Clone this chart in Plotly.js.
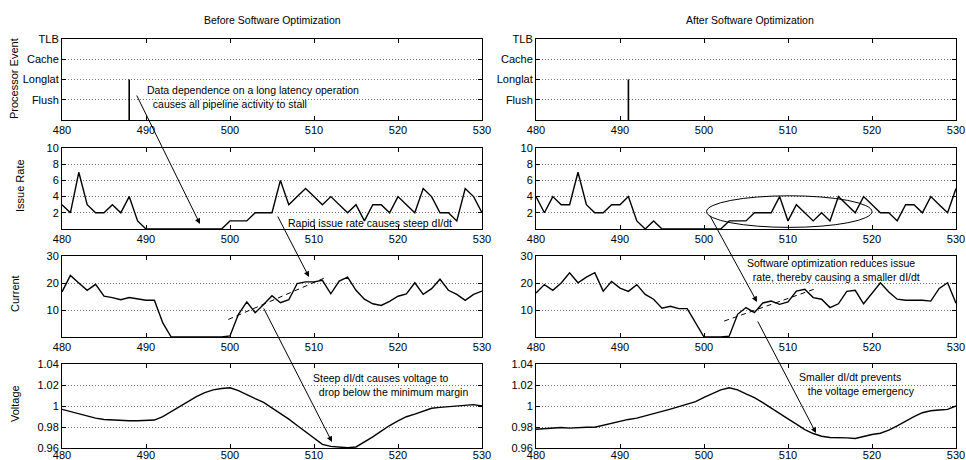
<!DOCTYPE html>
<html>
<head>
<meta charset="utf-8">
<script src="https://cdn.plot.ly/plotly-3.0.1.min.js"></script>
<style>html,body{margin:0;padding:0;background:#fff;}#chart{width:966px;height:460px;}</style>
</head>
<body>
<div id="chart"></div>
<script>
// ---------------- data ----------------
const cycles = [480,481,482,483,484,485,486,487,488,489,490,491,492,493,494,495,496,497,498,499,
                500,501,502,503,504,505,506,507,508,509,510,511,512,513,514,515,516,517,518,519,
                520,521,522,523,524,525,526,527,528,529,530];
const xTicks = [480,490,500,510,520,530];

const eventNames = ['Flush','Longlat','Cache','TLB'];
const eventCycleBefore = [488];
const eventTypeBefore = ['Longlat'];
const eventCycleAfter = [491];
const eventTypeAfter = ['Longlat'];

const issueBefore = [3,2,7,3,2,2,3,2,4,1, 0,0,0,0,0,0,0,0,0,0,
                     1,1,1,2,2,2,6,3,4,5, 4,3,4,3,2,3,1,3,3,2,
                     4,3,2,5,4,2,2,1,5,4, 2];
const issueAfter  = [4,2,4,3,3,7,3,2,2,3, 3,4,1,0,1,0,0,0,0,0,
                     0,0,0,1,1,1,2,2,2,4, 1,3,2,1,2,1,4,3,2,4,
                     3,2,2,1,3,3,2,4,3,2, 5];

const currentBefore = [16.7,22.8,20,17.3,19.5,15.1,14.6,13.8,14.6,14.2,
                       13.6,13.6,5.2,0,0,0,0,0,0,0,
                       0.4,8.4,13,9,12,15.3,12.7,13.8,19.8,20.4,
                       20.4,21,16,20.7,22.2,17.3,14,12.3,11.7,13.2,
                       15.1,16,20.1,15.8,17.9,21.4,17.3,15.8,13.6,15.8,
                       17];
const currentAfter = [16.3,19.4,17.3,20,23.8,20.1,22.2,23.8,17,20.6,
                      18.1,16.9,19.4,15.8,14,10.7,11.4,10.5,10.5,5.3,
                      0,0,0,0.3,8.4,10.9,9,12.6,13.3,12.1,
                      13,17,17.7,14.6,14,10.9,12.3,16.9,17.3,12.3,
                      16,20.1,16.7,14,13.6,13.6,13.6,13.3,18,20.1,
                      12.5];

const voltBefore = [0.9968,0.9946,0.9923,0.9904,0.9885,0.9872,0.9866,0.9862,0.9859,0.9859,
                    0.9862,0.9866,0.9898,0.9946,1.0,1.0048,1.009,1.0128,1.0154,1.0166,
                    1.0173,1.0147,1.0106,1.007,1.0035,0.9984,0.993,0.9875,0.9814,0.9754,
                    0.97,0.9635,0.9615,0.9605,0.9602,0.961,0.9654,0.9706,0.976,0.9814,
                    0.9859,0.9898,0.9923,0.9949,0.9978,0.9987,0.9994,1.0,1.001,1.0013,
                    1.0];
const voltAfter = [0.9779,0.9782,0.9792,0.9795,0.9789,0.9795,0.9798,0.9798,0.9818,0.9834,
                   0.9853,0.9872,0.9885,0.9904,0.9923,0.9949,0.9971,0.9994,1.0016,1.0042,
                   1.0083,1.0122,1.0154,1.0173,1.0154,1.0115,1.008,1.0032,0.9978,0.993,
                   0.9878,0.9827,0.9776,0.9738,0.9712,0.97,0.97,0.9696,0.969,0.9712,
                   0.9728,0.9741,0.977,0.9811,0.9856,0.9898,0.9936,0.9955,0.9962,0.9968,
                   1.0];

// dI/dt trend segments
const trendBeforeX = [499.8, 511.5];
const trendBeforeY = [6.5, 22.2];
const trendAfterX = [502.4, 513.3];
const trendAfterY = [5.9, 17.9];

// ---------------- layout helpers ----------------
const W = 966, H = 460;
const FONT = '"Liberation Sans", Arial, Helvetica, sans-serif';
const px = v => v / W;
const py = v => 1 - v / H;

const colX = [[62, 482], [536, 956]];
const rowY = [[39, 120], [148, 229], [256, 337], [364, 448]];

const yCfg = [
  {range:[0,4], tickvals:[1,2,3,4], ticktext:eventNames},
  {range:[0,10], tickvals:[2,4,6,8,10], ticktext:['2','4','6','8','10']},
  {range:[0,30], tickvals:[10,20,30], ticktext:['10','20','30']},
  {range:[0.96,1.04], tickvals:[0.96,0.98,1,1.02,1.04], ticktext:['0.96','0.98','1','1.02','1.04']}
];

const layout = {
  width: W, height: H,
  margin: {l:0, r:0, t:0, b:0},
  paper_bgcolor: '#fff', plot_bgcolor: '#fff',
  showlegend: false,
  font: {family: FONT, size: 11, color: '#000'},
  annotations: [], shapes: []
};

const traces = [];
const line = {color:'#000', width:1.4};

function eventTrace(cyc, types, ax) {
  const xs = [], ys = [];
  cyc.forEach((c, i) => {
    xs.push(c, c, null);
    ys.push(0, eventNames.indexOf(types[i]) + 1, null);
  });
  return {x: xs, y: ys, type:'scatter', mode:'lines', line:{color:'#000', width:1.6}, xaxis:'x'+ax, yaxis:'y'+ax, hoverinfo:'skip'};
}

for (let c = 0; c < 2; c++) {
  for (let r = 0; r < 4; r++) {
    const idx = c*4 + r + 1;
    const xn = 'xaxis' + (idx === 1 ? '' : idx);
    const yn = 'yaxis' + (idx === 1 ? '' : idx);
    layout[xn] = {
      domain: [px(colX[c][0]), px(colX[c][1])],
      anchor: 'y' + (idx === 1 ? '' : idx),
      range: [480, 530], tickvals: xTicks, ticktext: xTicks.map(String),
      showgrid: false, zeroline: false,
      showline: true, linecolor: '#000', linewidth: 1, mirror: 'allticks',
      ticks: 'inside', ticklen: 4, tickcolor: '#000', tickwidth: 1,
      tickfont: {family: FONT, size: 11, color:'#000'}, fixedrange: true,
      ticklabelstandoff: (r === 3 ? -3 : 0)
    };
    layout[yn] = {
      domain: [py(rowY[r][1]), py(rowY[r][0])],
      anchor: 'x' + (idx === 1 ? '' : idx),
      range: yCfg[r].range, tickvals: yCfg[r].tickvals, ticktext: yCfg[r].ticktext,
      showgrid: true, gridcolor: '#777', gridwidth: 1, griddash: '1px,2px',
      zeroline: false,
      showline: true, linecolor: '#000', linewidth: 1, mirror: 'allticks',
      ticks: 'inside', ticklen: 4, tickcolor: '#000', tickwidth: 1,
      tickfont: {family: FONT, size: 11, color:'#000'}, fixedrange: true
    };
  }
}

const axs = (i) => (i === 1 ? '' : String(i));

// left column (before)
traces.push(eventTrace(eventCycleBefore, eventTypeBefore, axs(1)));
traces.push({x:cycles, y:issueBefore, type:'scatter', mode:'lines', line:line, xaxis:'x2', yaxis:'y2'});
traces.push({x:cycles, y:currentBefore, type:'scatter', mode:'lines', line:line, xaxis:'x3', yaxis:'y3'});
traces.push({x:trendBeforeX, y:trendBeforeY, type:'scatter', mode:'lines', line:{color:'#000', width:1, dash:'5px,4px'}, xaxis:'x3', yaxis:'y3'});
traces.push({x:cycles, y:voltBefore, type:'scatter', mode:'lines', line:line, xaxis:'x4', yaxis:'y4'});
// right column (after)
traces.push(eventTrace(eventCycleAfter, eventTypeAfter, '5'));
traces.push({x:cycles, y:issueAfter, type:'scatter', mode:'lines', line:line, xaxis:'x6', yaxis:'y6'});
traces.push({x:cycles, y:currentAfter, type:'scatter', mode:'lines', line:line, xaxis:'x7', yaxis:'y7'});
traces.push({x:trendAfterX, y:trendAfterY, type:'scatter', mode:'lines', line:{color:'#000', width:1, dash:'5px,4px'}, xaxis:'x7', yaxis:'y7'});
traces.push({x:cycles, y:voltAfter, type:'scatter', mode:'lines', line:line, xaxis:'x8', yaxis:'y8'});

// ellipse around issue rate (after)
layout.shapes.push({type:'circle', xref:'x6', yref:'y6', x0:500.3, x1:520, y0:0.2, y1:4.1, line:{color:'#000', width:1}});

// titles
function txt(x, y, text, opts) {
  layout.annotations.push(Object.assign({
    xref:'paper', yref:'paper', x:px(x), y:py(y), text:text, showarrow:false,
    xanchor:'center', yanchor:'middle', borderpad:0,
    font:{family:FONT, size:10.5, color:'#000'}
  }, opts || {}));
}
txt(272, 20, 'Before Software Optimization');
txt(750, 20, 'After Software Optimization');

// y-axis titles
txt(14, 79, 'Processor Event', {textangle:-90, font:{family:FONT, size:11, color:'#000'}});
txt(20, 186, 'Issue Rate', {textangle:-90, font:{family:FONT, size:11, color:'#000'}});
txt(15, 294, 'Current', {textangle:-90, font:{family:FONT, size:11, color:'#000'}});
txt(15, 404, 'Voltage', {textangle:-90, font:{family:FONT, size:11, color:'#000'}});

// callout texts
const nb = '\u00a0';
txt(146, 97.5, 'Data dependence on a long latency operation<br>' + nb + nb + 'causes all pipeline activity to stall', {xanchor:'left', align:'left'});
txt(287, 223, 'Rapid issue rate causes steep dI/dt', {xanchor:'left', align:'left'});
txt(312, 384.5, 'Steep dI/dt causes voltage to<br>' + nb + nb + 'drop below the minimum margin', {xanchor:'left', align:'left'});
txt(746, 269.5, 'Software optimization reduces issue<br>' + nb + nb + 'rate, thereby causing a smaller dI/dt', {xanchor:'left', align:'left'});
txt(798, 384, 'Smaller dI/dt prevents<br>' + nb + nb + nb + 'the voltage emergency', {xanchor:'left', align:'left'});

// arrows (tail -> head, in pixels)
function arrow(sx, sy, ex, ey) {
  layout.annotations.push({
    xref:'paper', yref:'paper', x:px(ex), y:py(ey),
    axref:'pixel', ayref:'pixel', ax: sx - ex, ay: sy - ey,
    text:'', showarrow:true, arrowhead:2, arrowsize:1.1, arrowwidth:1, arrowcolor:'#000', standoff:0, startstandoff:0
  });
}
arrow(136, 94, 200, 224);
arrow(277, 215, 309, 277);
arrow(263, 307, 332, 442);
arrow(709, 214, 757, 302);
arrow(757, 320, 816, 433);

Plotly.newPlot('chart', traces, layout, {staticPlot:true, displayModeBar:false});
</script>
</body>
</html>
